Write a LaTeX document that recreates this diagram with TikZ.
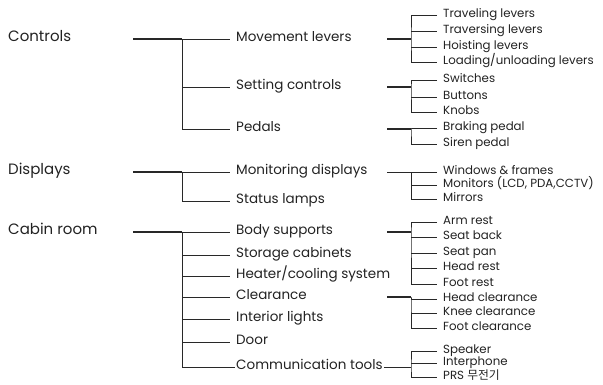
\documentclass[tikz,border=0pt]{standalone}
\usepackage{fontspec}
\setmainfont{Poppins}
\newfontfamily\krfont{Noto Sans CJK KR}
\definecolor{txtgray}{HTML}{222222}
\definecolor{linegray}{HTML}{282828}

\begin{document}
\begin{tikzpicture}[x=1pt,y=-1pt]
    \tikzstyle{every node}=[anchor=west, inner xsep=6pt, inner ysep=0pt, text height=0.72em, text depth=0.2em, text=txtgray]
    \tikzstyle{top}=[font=\fontsize{15}{15}\selectfont]
    \tikzstyle{mid}=[font=\fontsize{13.5}{13.5}\selectfont]
    \tikzstyle{leaf}=[font=\fontsize{11.8}{11.8}\selectfont]
    \tikzstyle{trunk}=[linegray, line width=1.4pt]
    \tikzstyle{edge}=[linegray, line width=0.9pt]

    \useasboundingbox (0,0) rectangle (603,385);

    % first level
    \node[top] (ctrl) at (2,39) {Controls};
    \node[top] (disp) at (2,172) {Displays};
    \node[top] (cabin) at (2,232) {Cabin room};

    % second level
    \node[mid] (move) at (230,39) {Movement levers};
    \node[mid] (set) at (230,87) {Setting controls};
    \node[mid] (pedal) at (230,129) {Pedals};
    \node[mid] (moni) at (230,172) {Monitoring displays};
    \node[mid] (lamp) at (230,201) {Status lamps};
    \node[mid] (body) at (230,232) {Body supports};
    \node[mid] (store) at (230,255) {Storage cabinets};
    \node[mid] (heat) at (230,276) {Heater/cooling system};
    \node[mid] (clear) at (230,297) {Clearance};
    \node[mid] (light) at (230,319) {Interior lights};
    \node[mid] (door) at (230,342) {Door};
    \node[mid, inner xsep=1pt] (comm) at (235,367) {Communication tools};

    % third level
    \node[leaf] (trav) at (437,15) {Traveling levers};
    \node[leaf] (trvs) at (437,31) {Traversing levers};
    \node[leaf] (hoist) at (437,47) {Hoisting levers};
    \node[leaf] (load) at (437,62) {Loading/unloading levers};
    \node[leaf] (swit) at (437,80) {Switches};
    \node[leaf] (butt) at (437,97) {Buttons};
    \node[leaf] (knob) at (437,112) {Knobs};
    \node[leaf] (brake) at (437,128) {Braking pedal};
    \node[leaf] (siren) at (437,144) {Siren pedal};
    \node[leaf] (wind) at (437,172) {Windows \& frames};
    \node[leaf] (mon) at (437,185) {Monitors (LCD, PDA,CCTV)};
    \node[leaf] (mirr) at (437,199) {Mirrors};
    \node[leaf] (arm) at (437,222) {Arm rest};
    \node[leaf] (back) at (437,237) {Seat back};
    \node[leaf] (pan) at (437,253) {Seat pan};
    \node[leaf] (head) at (437,268) {Head rest};
    \node[leaf] (foot) at (437,284) {Foot rest};
    \node[leaf] (hcl) at (437,299) {Head clearance};
    \node[leaf] (kcl) at (437,313) {Knee clearance};
    \node[leaf] (fcl) at (437,328) {Foot clearance};
    \node[leaf] (spk) at (437,351) {Speaker};
    \node[leaf] (inter) at (437,363) {Interphone};
    \node[leaf] (prs) at (437,377) {PRS {\krfont 무전기}};

    % junctions
    \coordinate (c-ctrl) at (133,39);
    \coordinate (j-ctrl) at (182,39);
    \coordinate (c-disp) at (133,172);
    \coordinate (j-disp) at (182,172);
    \coordinate (c-cabin) at (133,232);
    \coordinate (j-cabin) at (182,232);
    \coordinate (c-move) at (387,39);
    \coordinate (j-move) at (411,39);
    \coordinate (c-set) at (387,87);
    \coordinate (j-set) at (411,87);
    \coordinate (c-pedal) at (387,129);
    \coordinate (j-pedal) at (411,129);
    \coordinate (c-moni) at (387,172);
    \coordinate (j-moni) at (411,172);
    \coordinate (c-body) at (387,232);
    \coordinate (j-body) at (411,232);
    \coordinate (c-clear) at (387,297);
    \coordinate (j-clear) at (411,297);
    \coordinate (j-comm) at (411,367);

    \draw[trunk] (c-ctrl) -- (j-ctrl);
    \draw[trunk] (c-disp) -- (j-disp);
    \draw[trunk] (c-cabin) -- (j-cabin);
    \draw[edge] (j-ctrl) -- (move.west);
    \draw[edge] (j-ctrl) |- (pedal.west);
    \draw[edge] (set.west -| j-ctrl) -- (set.west);
    \draw[edge] (j-disp) -- (moni.west);
    \draw[edge] (j-disp) |- (lamp.west);
    \draw[edge] (j-cabin) -- (body.west);
    \draw[edge] (j-cabin) |- (comm.west);
    \foreach \n in {store, heat, clear, light, door}
        \draw[edge] (\n.west -| j-cabin) -- (\n.west);

    \draw[trunk] (c-move) -- (j-move);
    \draw[trunk] (c-set) -- (j-set);
    \draw[trunk] (c-pedal) -- (j-pedal);
    \draw[edge] (c-moni) -- (j-moni);
    \draw[trunk] (c-body) -- (j-body);
    \draw[trunk] (c-clear) -- (j-clear);
    \draw[edge] (comm.east) -- (j-comm);

    \draw[edge] (trav.west) -| (j-move) |- (load.west);
    \draw[edge] (swit.west) -| (j-set) |- (knob.west);
    \draw[edge] (brake.west) -| (j-pedal) |- (siren.west);
    \draw[edge] (wind.west) -| (j-moni) |- (mirr.west);
    \draw[edge] (arm.west) -| (j-body) |- (foot.west);
    \draw[edge] (hcl.west) -| (j-clear) |- (fcl.west);
    \draw[edge] (spk.west) -| (j-comm) |- (prs.west);
    \foreach \n in {trvs, hoist, butt, mon, back, pan, head, kcl, inter}
        \draw[edge] (\n.west -| j-move) -- (\n.west);
\end{tikzpicture}
\end{document}
